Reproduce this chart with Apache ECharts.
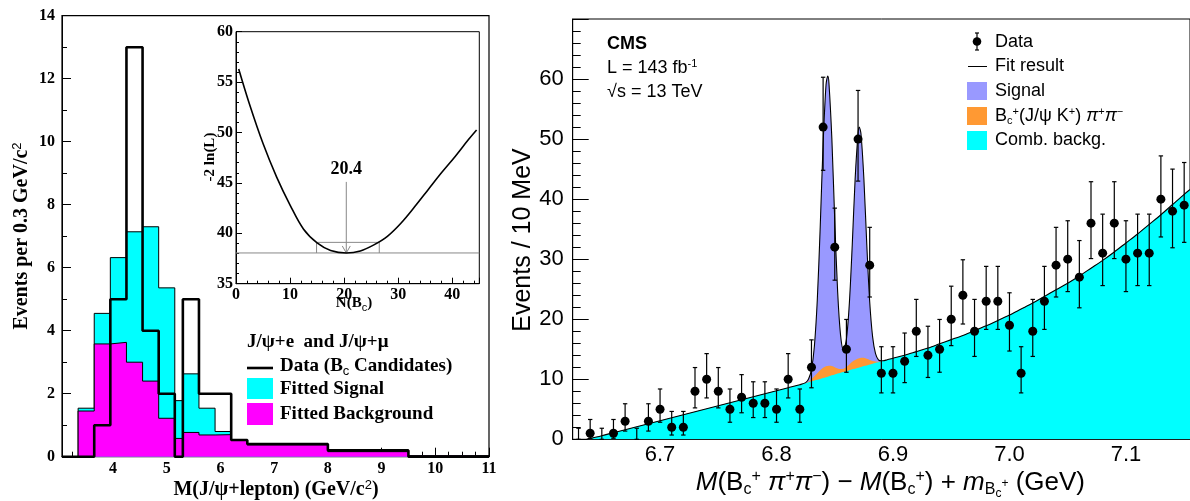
<!DOCTYPE html>
<html><head><meta charset="utf-8">
<script src="https://cdn.jsdelivr.net/npm/echarts@6/dist/echarts.min.js"></script>
<style>html,body{margin:0;padding:0;background:#fff}#c{width:1190px;height:501px}</style>
</head><body><div id="c"></div>
<script>
// ===== Left panel: J/psi + lepton mass histogram =====
const histEdges = [3.35, 3.65, 3.95, 4.25, 4.55, 4.85, 5.15, 5.3, 5.6, 5.9, 6.2, 6.5, 8.0, 9.5, 11.0];
const fittedBackground = [1.45, 3.58, 3.63, 3.00, 2.40, 1.22, 0.58, 0.77, 0.69, 0.70, 0.53, 0.38, 0.16, 0.03];
const fittedSignal = [0.09, 0.97, 2.69, 4.14, 4.90, 4.14, 1.20, 1.86, 0.85, 0.10, 0, 0, 0, 0];
const dataEdges = [3.05, 3.35, 3.65, 3.95, 4.25, 4.55, 4.85, 5.15, 5.3, 5.6, 5.9, 6.2, 6.5, 8.0, 9.5, 11.0];
const dataCounts = [0, 0, 1, 5, 13, 4, 2, 0, 5, 2, 2, 0.53, 0.4, 0.2, 0];

// ===== Inset: -2 ln(L) vs N(Bc) =====
const nllN = [0.5, 2.5, 5, 7.5, 10, 12.5, 15, 17.5, 20.4, 23, 25.5, 28, 30.5, 33, 35.5, 38, 40.5, 43, 44.5];
const nllValue = [56.3, 52.8, 48.9, 45.6, 42.8, 40.4, 39.05, 38.3, 38.05, 38.25, 38.85, 39.7, 41.0, 42.6, 44.3, 46.0, 47.6, 49.3, 50.25];
const nllMinimum = 38.05;
const nllPlusOne = 39.1;
const bestN = 20.4;
const nInterval = [14.9, 26.5];
const arrowTop = 45.1;
const bestLabelY = 46.3;

// ===== Right panel: CMS B_c(2S) =====
const massBins = [6.63,6.64,6.65,6.66,6.67,6.68,6.69,6.70,6.71,6.72,6.73,6.74,6.75,6.76,6.77,6.78,6.79,6.80,6.81,6.82,6.83,6.84,6.85,6.86,6.87,6.88,6.89,6.90,6.91,6.92,6.93,6.94,6.95,6.96,6.97,6.98,6.99,7.00,7.01,7.02,7.03,7.04,7.05,7.06,7.07,7.08,7.09,7.10,7.11,7.12,7.13,7.14,7.15];
const events = [0,1,0,1,3,0,3,5,2,2,8,10,8,5,7,6,6,5,10,5,12,52,32,15,50,29,11,11,13,18,14,15,20,24,18,23,23,19,11,18,23,29,30,27,36,31,36,30,31,31,40,38,39];
const eventsLow = [0,0.17,0,0.17,1.37,0,1.37,2.84,0.71,0.71,5.23,6.89,5.23,2.84,4.42,3.62,3.62,2.84,6.89,2.84,8.58,44.8,26.5,11.17,43.0,23.7,7.73,7.73,9.44,13.8,10.3,11.17,15.6,19.2,13.8,18.3,18.3,14.7,7.73,13.8,18.3,23.7,24.6,21.9,30.1,25.6,30.1,24.6,25.6,25.6,33.7,31.9,32.8];
const eventsHigh = [1.84,3.30,1.84,3.30,5.92,1.84,5.92,8.38,4.64,4.64,11.95,14.27,11.95,8.38,10.77,9.58,9.58,8.38,14.27,8.38,16.56,60.3,38.5,19.96,58.1,35.3,15.42,15.42,17.70,23.3,18.83,19.96,25.5,29.9,23.3,28.8,28.8,24.4,15.42,23.3,28.8,35.3,36.4,33.1,42.9,37.5,42.9,36.4,37.5,37.5,47.2,45.0,46.1];

// fit curve: background outside peak window
const fitXLeft = [6.637,6.64,6.65,6.66,6.67,6.68,6.69,6.70,6.71,6.72,6.73,6.74,6.75,6.76,6.77,6.78,6.79,6.80,6.81,6.82];
const combBkgLeft = [0,0.15,0.6,1.1,1.6,2.1,2.6,3.1,3.6,4.1,4.6,5.1,5.6,6.1,6.6,7.1,7.6,8.1,8.6,9.1];
// peak window
const fitXPeak = [6.825,6.8275,6.83,6.8325,6.835,6.8375,6.84,6.8425,6.844,6.845,6.8475,6.85,6.8525,6.855,6.8575,6.86,6.8625,6.865,6.8675,6.87,6.871,6.8725,6.875,6.8775,6.88,6.8825,6.885,6.8875,6.89,6.8925,6.895];
const combBkgPeak = [9.35,9.5,9.65,9.8,9.9,10.05,10.2,10.35,10.4,10.5,10.65,10.8,10.95,11.1,11.2,11.35,11.5,11.65,11.75,11.9,11.95,12.05,12.2,12.3,12.45,12.6,12.75,12.85,13.0,13.1,13.25];
const bcKPeak = [0,0.1,0.35,0.7,1.1,1.45,1.7,1.8,1.8,1.75,1.55,1.2,0.85,0.6,0.55,0.7,0.95,1.25,1.45,1.55,1.55,1.55,1.4,1.1,0.75,0.45,0.2,0.05,0,0,0];
const signalPeak = [0.09,0.43,1.6,5.0,12.2,23.8,37.3,46.9,48.3,47.1,37.9,24.4,12.7,5.6,3.1,4.6,10.1,19.4,30.2,37.5,38.5,37.3,29.8,19.0,9.7,4.0,1.3,0.34,0.07,0,0];
const fitXRight = [6.90,6.91,6.92,6.93,6.94,6.95,6.96,6.97,6.98,6.99,7.00,7.01,7.02,7.03,7.04,7.05,7.06,7.07,7.08,7.09,7.10,7.11,7.12,7.13,7.14,7.15,7.155];
const combBkgRight = [13.5,14.0,14.6,15.2,15.9,16.6,17.3,18.1,18.9,19.8,20.7,21.7,22.7,23.8,24.9,26.0,27.2,28.5,29.8,31.2,32.7,34.2,35.8,37.4,39.1,40.8,41.6];

// ---- build ----
function stepPts(edges, vals) {
  const p = [[edges[0], 0]];
  vals.forEach((v, i) => p.push([edges[i], v]));
  p.push([edges[edges.length - 1], vals[vals.length - 1]]);
  p.push([edges[edges.length - 1], 0]);
  return p;
}
const histTotal = fittedBackground.map((b, i) => b + fittedSignal[i]);
const fitX = fitXLeft.concat(fitXPeak, fitXRight);
const zl = fitXLeft.map(() => 0), zr = fitXRight.map(() => 0);
const bkgAll = combBkgLeft.concat(combBkgPeak, combBkgRight);
const bcKAll = zl.concat(bcKPeak, zr);
const sigAll = zl.concat(signalPeak, zr);
const bkgPlusK = bkgAll.map((b, i) => b + bcKAll[i]);
const fitTotal = bkgPlusK.map((b, i) => b + sigAll[i]);

const SERIF = 'Liberation Serif';
const SANS = 'Liberation Sans';
const C = echarts.init(document.getElementById('c'), null, {renderer: 'canvas'});

const leftLab = {color: '#000', fontFamily: SERIF, fontWeight: 'bold', fontSize: 16};
const rightLab = {color: '#000', fontFamily: SANS, fontSize: 22};
const blackLine = {show: true, lineStyle: {color: '#000', width: 1}};

const supS = (fs) => ({fontSize: fs, padding: [0, 0, Math.round(fs * 0.8), 0]});
const subS = (fs) => ({fontSize: fs, padding: [Math.round(fs * 0.8), 0, 0, 0]});

C.setOption({
  animation: false,
  backgroundColor: '#fff',
  grid: [
    {left: 62, top: 15.7, width: 427, height: 441, show: true, borderColor: '#000', borderWidth: 1.2, backgroundColor: 'transparent'},
    {left: 236, top: 31.7, width: 243.3, height: 252, show: true, borderColor: '#000', borderWidth: 1, backgroundColor: '#fff'},
    {left: 572.7, top: 19, width: 619, height: 420.3, show: true, borderColor: '#000', borderWidth: 1, backgroundColor: 'transparent'}
  ],
  xAxis: [
    {gridIndex: 0, type: 'value', min: 3.05, max: 11, splitNumber: 8,
     axisLine: blackLine, axisTick: {inside: true, length: 9, lineStyle: {color: '#000'}},
     minorTick: {show: true, splitNumber: 4, length: 5, lineStyle: {color: '#000'}},
     splitLine: {show: false}, axisLabel: Object.assign({margin: 4, showMinLabel: false}, leftLab)},
    {gridIndex: 1, type: 'value', min: 0, max: 45, interval: 10,
     axisLine: blackLine, axisTick: {inside: true, length: 6, lineStyle: {color: '#000'}},
     minorTick: {show: true, splitNumber: 5, length: 3, lineStyle: {color: '#000'}},
     splitLine: {show: false}, axisLabel: Object.assign({margin: 3, showMaxLabel: false}, leftLab)},
    {gridIndex: 2, type: 'value', min: 6.625, max: 7.155, splitNumber: 5,
     axisLine: blackLine, axisTick: {inside: true, length: 16, lineStyle: {color: '#000'}},
     minorTick: {show: true, splitNumber: 5, length: 8, lineStyle: {color: '#000'}},
     splitLine: {show: false},
     axisLabel: Object.assign({margin: 5, showMinLabel: false, showMaxLabel: false, formatter: v => v.toFixed(1)}, rightLab)}
  ],
  yAxis: [
    {gridIndex: 0, type: 'value', min: 0, max: 14, interval: 2,
     axisLine: blackLine, axisTick: {inside: true, length: 9, lineStyle: {color: '#000'}},
     minorTick: {show: true, splitNumber: 2, length: 5, lineStyle: {color: '#000'}},
     splitLine: {show: false}, axisLabel: Object.assign({margin: 7}, leftLab)},
    {gridIndex: 1, type: 'value', min: 35, max: 60, interval: 5,
     axisLine: blackLine, axisTick: {inside: true, length: 6, lineStyle: {color: '#000'}},
     minorTick: {show: true, splitNumber: 5, length: 3, lineStyle: {color: '#000'}},
     splitLine: {show: false}, axisLabel: Object.assign({margin: 3}, leftLab)},
    {gridIndex: 2, type: 'value', min: 0, max: 70, interval: 10,
     axisLine: blackLine, axisTick: {inside: true, length: 16, lineStyle: {color: '#000'}},
     minorTick: {show: true, splitNumber: 5, length: 8, lineStyle: {color: '#000'}},
     splitLine: {show: false}, axisLabel: Object.assign({margin: 9, showMaxLabel: false}, rightLab)}
  ],
  series: [
    // left histograms
    {type: 'line', xAxisIndex: 0, yAxisIndex: 0, step: 'end', symbol: 'none', data: stepPts(histEdges, histTotal),
     lineStyle: {color: '#000', width: 1}, areaStyle: {color: '#00ffff', opacity: 1}, z: 2},
    {type: 'line', xAxisIndex: 0, yAxisIndex: 0, step: 'end', symbol: 'none', data: stepPts(histEdges, fittedBackground),
     lineStyle: {color: '#000', width: 1}, areaStyle: {color: '#ff00ff', opacity: 1}, z: 3},
    {type: 'line', xAxisIndex: 0, yAxisIndex: 0, step: 'end', symbol: 'none', data: stepPts(dataEdges, dataCounts),
     lineStyle: {color: '#000', width: 2.6}, z: 4},
    // inset
    {type: 'line', xAxisIndex: 1, yAxisIndex: 1, symbol: 'none', data: [[0, nllMinimum], [45, nllMinimum]],
     lineStyle: {color: '#888', width: 1}, z: 5},
    {type: 'line', xAxisIndex: 1, yAxisIndex: 1, symbol: 'none',
     data: [[nInterval[0], nllMinimum], [nInterval[0], nllPlusOne], [nInterval[1], nllPlusOne], [nInterval[1], nllMinimum]],
     lineStyle: {color: '#888', width: 1}, z: 5},
    {type: 'custom', xAxisIndex: 1, yAxisIndex: 1, data: [[bestN, arrowTop, nllMinimum]], z: 5,
     renderItem: (params, api) => {
       const t = api.coord([api.value(0), api.value(1)]);
       const b = api.coord([api.value(0), api.value(2)]);
       return {type: 'group', children: [
         {type: 'line', shape: {x1: t[0], y1: t[1], x2: b[0], y2: b[1]}, style: {stroke: '#888', lineWidth: 1}},
         {type: 'polyline', shape: {points: [[b[0] - 4, b[1] - 7], [b[0], b[1]], [b[0] + 4, b[1] - 7]]}, style: {stroke: '#888', fill: null, lineWidth: 1}}
       ]};
     }},
    {type: 'line', xAxisIndex: 1, yAxisIndex: 1, symbol: 'none', smooth: 0.35,
     data: nllN.map((n, i) => [n, nllValue[i]]), lineStyle: {color: '#000', width: 1.6}, z: 6},
    {type: 'scatter', xAxisIndex: 1, yAxisIndex: 1, symbolSize: 0, data: [[bestN, bestLabelY]], z: 7,
     label: {show: true, position: 'inside', formatter: p => p.value[0].toFixed(1), color: '#000', opacity: 1, textBorderWidth: 0,
             fontFamily: SERIF, fontWeight: 'bold', fontSize: 18}},
    // right fit: total (purple) below, bkg+B_c K (orange), comb. bkg (cyan) on top
    {type: 'line', xAxisIndex: 2, yAxisIndex: 2, symbol: 'none', smooth: 0.3,
     data: fitX.map((x, i) => [x, fitTotal[i]]), lineStyle: {width: 0, opacity: 0}, areaStyle: {color: '#9999ff', opacity: 1}, z: 2},
    {type: 'line', xAxisIndex: 2, yAxisIndex: 2, symbol: 'none', smooth: 0.3,
     data: fitX.map((x, i) => [x, bkgPlusK[i]]), lineStyle: {width: 0, opacity: 0}, areaStyle: {color: '#ff9933', opacity: 1}, z: 3},
    {type: 'line', xAxisIndex: 2, yAxisIndex: 2, symbol: 'none', smooth: 0.3,
     data: fitX.map((x, i) => [x, bkgAll[i]]), lineStyle: {width: 0, opacity: 0}, areaStyle: {color: '#00ffff', opacity: 1}, z: 4},
    {type: 'line', xAxisIndex: 2, yAxisIndex: 2, symbol: 'none', smooth: 0.3,
     data: fitX.map((x, i) => [x, fitTotal[i]]), lineStyle: {color: '#000', width: 1.1}, z: 5},
    {type: 'custom', xAxisIndex: 2, yAxisIndex: 2, z: 6,
     data: massBins.map((x, i) => [x, eventsLow[i], eventsHigh[i]]),
     renderItem: (params, api) => {
       const lo = api.coord([api.value(0), api.value(1)]);
       const hi = api.coord([api.value(0), api.value(2)]);
       const st = {stroke: '#000', lineWidth: 1.2};
       return {type: 'group', children: [
         {type: 'line', shape: {x1: lo[0], y1: lo[1], x2: hi[0], y2: hi[1]}, style: st},
         {type: 'line', shape: {x1: hi[0] - 2.2, y1: hi[1], x2: hi[0] + 2.2, y2: hi[1]}, style: st},
         {type: 'line', shape: {x1: lo[0] - 2.2, y1: lo[1], x2: lo[0] + 2.2, y2: lo[1]}, style: st}
       ]};
     }},
    {type: 'scatter', xAxisIndex: 2, yAxisIndex: 2, z: 7, symbol: 'circle',
     symbolSize: v => (v[1] > 0 ? 9 : 0), itemStyle: {color: '#000', opacity: 1},
     data: massBins.map((x, i) => [x, events[i]])}
  ],
  graphic: [
    // left titles
    {type: 'text', x: 22, y: 236, rotation: Math.PI / 2,
     style: {text: 'Events per 0.3 GeV/c{s|2}', rich: {s: supS(13)}, fill: '#000', font: 'bold 20px "Liberation Serif"', align: 'center', verticalAlign: 'middle'}},
    {type: 'text', x: 276, y: 490,
     style: {text: 'M(J/ψ+lepton) (GeV/c{s|2})', rich: {s: supS(13)}, fill: '#000', font: 'bold 20px "Liberation Serif"', align: 'center', verticalAlign: 'middle'}},
    {type: 'text', x: 210, y: 157, rotation: Math.PI / 2,
     style: {text: '-2 ln(L)', fill: '#000', font: 'bold 15px "Liberation Serif"', align: 'center', verticalAlign: 'middle'}},
    {type: 'text', x: 354, y: 303,
     style: {text: 'N(B{b|c})', rich: {b: subS(11)}, fill: '#000', font: 'bold 15px "Liberation Serif"', align: 'center', verticalAlign: 'middle'}},
    // left legend
    {type: 'text', x: 247, y: 342, style: {text: 'J/ψ+e  and J/ψ+μ', fill: '#000', font: 'bold 19px "Liberation Serif"', verticalAlign: 'middle'}},
    {type: 'line', shape: {x1: 247, y1: 368, x2: 273, y2: 368}, style: {stroke: '#000', lineWidth: 2.6}},
    {type: 'text', x: 280, y: 366, style: {text: 'Data (B{b|c} Candidates)', rich: {b: subS(13)}, fill: '#000', font: 'bold 19px "Liberation Serif"', verticalAlign: 'middle'}},
    {type: 'rect', shape: {x: 247, y: 378, width: 26, height: 21}, style: {fill: '#00ffff'}},
    {type: 'text', x: 280, y: 389, style: {text: 'Fitted Signal', fill: '#000', font: 'bold 19px "Liberation Serif"', verticalAlign: 'middle'}},
    {type: 'rect', shape: {x: 247, y: 403, width: 26, height: 22}, style: {fill: '#ff00ff'}},
    {type: 'text', x: 280, y: 414, style: {text: 'Fitted Background', fill: '#000', font: 'bold 19px "Liberation Serif"', verticalAlign: 'middle'}},
    // right titles
    {type: 'text', x: 523, y: 240, rotation: Math.PI / 2,
     style: {text: 'Events / 10 MeV', fill: '#000', font: '25px "Liberation Sans"', align: 'center', verticalAlign: 'middle'}},
    {type: 'text', x: 1085, y: 483,
     style: {text: '{i|M}(B{b|c}{s|+} {i|π}{s|+}{i|π}{s|−}) − {i|M}(B{b|c}{s|+}) + {i|m}{b|B}{bb|c}{bs|+} (GeV)',
       rich: {i: {fontStyle: 'italic', fontSize: 26, fontFamily: SANS}, s: supS(16), b: subS(16), bb: {fontSize: 12, padding: [22, 0, 0, 0]}, bs: {fontSize: 12, padding: [2, 0, 0, 0]}},
       fill: '#000', font: '26px "Liberation Sans"', align: 'right', verticalAlign: 'middle'}},
    // CMS label
    {type: 'text', x: 607, y: 44, style: {text: 'CMS', fill: '#000', font: 'bold 18px "Liberation Sans"', verticalAlign: 'middle'}},
    {type: 'text', x: 607, y: 68, style: {text: 'L = 143 fb{s|-1}', rich: {s: supS(11)}, fill: '#000', font: '18px "Liberation Sans"', verticalAlign: 'middle'}},
    {type: 'text', x: 607, y: 92, style: {text: '√s = 13 TeV', fill: '#000', font: '18px "Liberation Sans"', verticalAlign: 'middle'}},
    // right legend
    {type: 'line', shape: {x1: 977, y1: 33, x2: 977, y2: 50}, style: {stroke: '#000', lineWidth: 1.2}},
    {type: 'line', shape: {x1: 975, y1: 33, x2: 979, y2: 33}, style: {stroke: '#000', lineWidth: 1.2}},
    {type: 'line', shape: {x1: 975, y1: 50, x2: 979, y2: 50}, style: {stroke: '#000', lineWidth: 1.2}},
    {type: 'circle', shape: {cx: 977, cy: 41.5, r: 4.3}, style: {fill: '#000'}},
    {type: 'text', x: 995, y: 42, style: {text: 'Data', fill: '#000', font: '18px "Liberation Sans"', verticalAlign: 'middle'}},
    {type: 'line', shape: {x1: 968, y1: 66.5, x2: 987, y2: 66.5}, style: {stroke: '#000', lineWidth: 1}},
    {type: 'text', x: 995, y: 66, style: {text: 'Fit result', fill: '#000', font: '18px "Liberation Sans"', verticalAlign: 'middle'}},
    {type: 'rect', shape: {x: 967, y: 82, width: 20, height: 18}, style: {fill: '#9999ff'}},
    {type: 'text', x: 995, y: 91, style: {text: 'Signal', fill: '#000', font: '18px "Liberation Sans"', verticalAlign: 'middle'}},
    {type: 'rect', shape: {x: 967, y: 107, width: 20, height: 18}, style: {fill: '#ff9933'}},
    {type: 'text', x: 995, y: 116, style: {text: 'B{b|c}{s|+}(J/ψ K{s|+}) {i|π}{s|+}{i|π}{s|−}',
       rich: {b: subS(11), s: supS(11), i: {fontStyle: 'italic', fontSize: 18, fontFamily: SANS}}, fill: '#000', font: '18px "Liberation Sans"', verticalAlign: 'middle'}},
    {type: 'rect', shape: {x: 967, y: 131, width: 20, height: 19}, style: {fill: '#00ffff'}},
    {type: 'text', x: 995, y: 140, style: {text: 'Comb. backg.', fill: '#000', font: '18px "Liberation Sans"', verticalAlign: 'middle'}}
  ]
});
</script></body></html>
